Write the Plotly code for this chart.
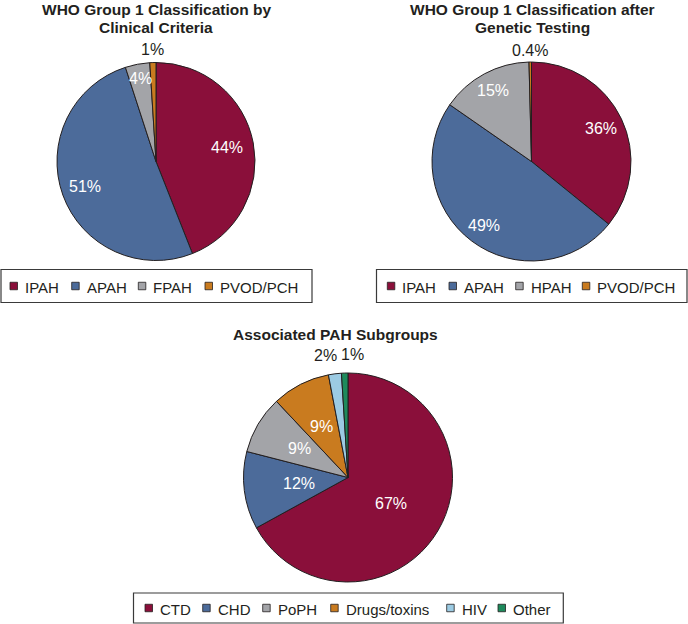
import math
import plotly.graph_objects as go

# ---- data ----
clin_labels = ["IPAH", "APAH", "FPAH", "PVOD/PCH"]
clin_values = [44, 51, 4, 1]

gen_labels = ["IPAH", "APAH", "HPAH", "PVOD/PCH"]
gen_values = [36, 49, 15, 0.4]

assoc_labels = ["CTD", "CHD", "PoPH", "Drugs/toxins", "HIV", "Other"]
assoc_values = [67, 12, 9, 9, 2, 1]

titles = [["WHO Group 1 Classification by", "Clinical Criteria"],
          ["WHO Group 1 Classification after", "Genetic Testing"],
          ["Associated PAH Subgroups"]]

MAROON = "#8a0f3a"
BLUE = "#4c6b9a"
GRAY = "#a3a4a8"
ORANGE = "#c97b1f"
LBLUE = "#9ccbe3"
GREEN = "#1e8a5c"
DARK = "#231f20"
FONT = "Liberation Sans, Arial, sans-serif"

W, H = 688, 624

# layout (pixels): pie centre, radius, label radial factors, label x nudges, title, legend box & item positions
pies = [
    dict(labels=clin_labels, values=clin_values, colors=[MAROON, BLUE, GRAY, ORANGE],
         cx=156, cy=161.5, r=99, lr=[0.73, 0.76, 0.85, 1.13], nudge=[0, 0, 0, 0],
         inside=[True, True, True, False], tx=156, ty=[9.5, 27.5],
         box=(1, 312, 269.5, 302.5), items=[10, 71.7, 138.3, 205]),
    dict(labels=gen_labels, values=gen_values, colors=[MAROON, BLUE, GRAY, ORANGE],
         cx=531.5, cy=161.5, r=99.5, lr=[0.77, 0.8, 0.81, 1.12], nudge=[0, 0, 0, 0],
         inside=[True, True, True, False], tx=532, ty=[9.5, 27.5],
         box=(376.5, 687, 269.5, 302.5), items=[387.3, 449, 515.7, 582.3]),
    dict(labels=assoc_labels, values=assoc_values, colors=[MAROON, BLUE, GRAY, ORANGE, LBLUE, GREEN],
         cx=348, cy=477.5, r=104.5, lr=[0.48, 0.47, 0.54, 0.55, 1.18, 1.18], nudge=[0, 0, 0, 0, -7, 8],
         inside=[True, True, True, True, False, False], tx=335, ty=[334.5],
         box=(133.5, 563.3, 593, 623), items=[145, 202.7, 262.7, 330.7, 446.7, 498]),
]
LEG_FS = 15
SQ = 7.5


def fmt(v):
    return f"{v:g}%"


def px(x):
    return x / W


def py(y):
    return 1 - y / H


fig = go.Figure()
shapes = []
annotations = []

for k, p in enumerate(pies):
    cx, cy, r = p["cx"], p["cy"], p["r"]
    fig.add_trace(go.Pie(
        labels=p["labels"], values=p["values"], sort=False, direction="clockwise", rotation=0,
        textinfo="none", hovertemplate="%{label}: %{percent}<extra></extra>",
        marker=dict(colors=p["colors"], line=dict(color=DARK, width=1)),
        domain=dict(x=[px(cx - r), px(cx + r)], y=[py(cy + r), py(cy - r)]),
        showlegend=False,
    ))
    # slice labels at each slice's mid angle
    total = sum(p["values"])
    cum = 0
    for v, f, ins, nd in zip(p["values"], p["lr"], p["inside"], p["nudge"]):
        theta = 2 * math.pi * (cum + v / 2) / total
        cum += v
        x = cx + f * r * math.sin(theta)
        y = cy - f * r * math.cos(theta)
        annotations.append(dict(text=fmt(v), x=px(x), y=py(y), xref="paper", yref="paper",
                                showarrow=False, xanchor="center", yanchor="middle", xshift=nd,
                                font=dict(size=16, family=FONT, color="white" if ins else DARK)))
    # titles
    for line, ty in zip(titles[k], p["ty"]):
        annotations.append(dict(text=f"<b>{line}</b>", x=px(p["tx"]), y=py(ty), xref="paper", yref="paper",
                                showarrow=False, xanchor="center", yanchor="middle",
                                font=dict(size=15.5, family=FONT, color=DARK)))
    # legend box
    bx0, bx1, by0, by1 = p["box"]
    ly = (by0 + by1) / 2
    shapes.append(dict(type="rect", xref="paper", yref="paper", x0=px(bx0), x1=px(bx1),
                       y0=py(by1), y1=py(by0), line=dict(color="#3a3a3a", width=1.2),
                       fillcolor="white", layer="below"))
    for lab, col, sx in zip(p["labels"], p["colors"], p["items"]):
        shapes.append(dict(type="rect", xref="paper", yref="paper", x0=px(sx), x1=px(sx + SQ),
                           y0=py(ly + SQ / 2), y1=py(ly - SQ / 2),
                           line=dict(color=DARK, width=0.8), fillcolor=col))
        annotations.append(dict(text=lab, x=px(sx + SQ + 7.5), y=py(ly + 1.5), xref="paper", yref="paper",
                                showarrow=False, xanchor="left", yanchor="middle", xshift=-2,
                                font=dict(size=LEG_FS, family=FONT, color=DARK)))

fig.update_layout(
    width=W, height=H, margin=dict(l=0, r=0, t=0, b=0),
    paper_bgcolor="white", plot_bgcolor="white",
    font=dict(family=FONT, color=DARK),
    shapes=shapes, annotations=annotations, showlegend=False,
)

fig.write_html("out.html", config={"displayModeBar": False},
               post_script="document.body.style.margin='0';")
